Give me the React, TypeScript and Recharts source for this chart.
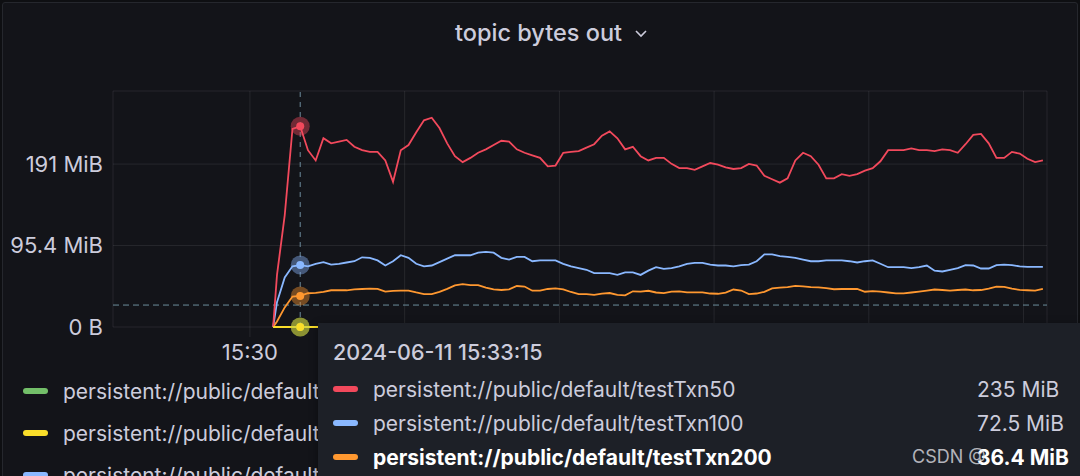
import { CartesianGrid, Line, LineChart, ReferenceDot, ReferenceLine, XAxis, YAxis } from "recharts";

// seconds after 15:30:00, first sample at 15:31:30 then every 30s
const FIRST_T = 90;
const START_T = 105;
const STEP_T = 30;

// MiB per series
const testTxn50 = [
  0, 61, 131, 232, 235, 207, 195, 221, 215, 217,
  219, 211, 207, 205, 205, 195, 170, 207, 213, 228,
  242, 245, 233, 215, 200, 193, 198, 204, 208, 213,
  218, 217, 208, 204, 201, 198, 188, 189, 204, 205,
  206, 210, 214, 224, 229, 221, 208, 211, 200, 195,
  198, 198, 191, 186, 186, 184, 188, 192, 190, 187,
  185, 186, 191, 189, 177, 173, 169, 174, 195, 204,
  200, 190, 174, 174, 179, 177, 179, 183, 186, 194,
  207, 207, 207, 209, 207, 207, 206, 208, 207, 204,
  214, 225, 226, 215, 198, 198, 205, 203, 197, 193,
  195,
];

const testTxn100 = [
  0,
  29, 58, 71, 72.5, 71, 74, 76, 73, 74, 75.5,
  77, 81.6, 81, 78, 72, 77, 84, 81, 74, 71,
  72, 76, 80, 84, 84, 84, 87, 88, 87, 81,
  79, 82, 82, 77, 78, 78, 78, 74, 71, 69,
  67, 63, 63, 63, 61, 64, 64, 61, 66, 70,
  68, 69, 71, 74, 75, 75, 73, 72, 72, 71,
  72.5, 73, 77, 85, 85, 83, 82, 81, 79, 77,
  77, 78, 78, 78, 77, 75.5, 77, 78, 74, 70,
  70, 70, 69, 70, 72, 66, 65, 67, 69, 72.5,
  72, 68.5, 68.5, 72.5, 73, 72.5, 71, 70.5, 70.5, 70.5,
];

const testTxn200 = [
  0,
  6.4, 23, 35.7, 36.4, 39.5, 40, 41, 43, 43, 43,
  44, 44.5, 45, 44.7, 41.5, 42.4, 42.5, 42.5, 40.4, 38.6,
  38.6, 41.2, 44.7, 48.8, 50.3, 49, 49, 46, 44, 43.3,
  44, 48, 47.4, 42.5, 42.5, 44.5, 45.3, 44, 41, 38.6,
  38.6, 37.7, 39, 39.8, 37.5, 37, 41.8, 41.5, 42.4, 40.4,
  39.6, 41.5, 41.8, 40.6, 40.6, 40.6, 39.2, 38.9, 40.2, 43.9,
  42.7, 38.6, 39.2, 41.2, 45.3, 46.2, 46.8, 48.2, 47.6, 46.8,
  46.5, 45.4, 44.2, 44.5, 44.5, 44.5, 41.3, 41.9, 41.5, 40.4,
  39.4, 39.4, 40.4, 41.5, 42.7, 43.9, 43.3, 42.5, 43.3, 43.9,
  43, 43.3, 45, 47.2, 47, 44.8, 43.5, 43, 42.7, 44.7,
];

const idleTopic = [
  0,
  0, 0, 0, 0, 0, 0, 0, 0, 0, 0,
  0, 0, 0, 0, 0, 0, 0, 0, 0, 0,
  0, 0, 0, 0, 0, 0, 0, 0, 0, 0,
  0, 0, 0, 0, 0, 0, 0, 0, 0, 0,
  0, 0, 0, 0, 0, 0, 0, 0, 0, 0,
  0, 0, 0, 0, 0, 0, 0, 0, 0, 0,
  0, 0, 0, 0, 0, 0, 0, 0, 0, 0,
  0, 0, 0, 0, 0, 0, 0, 0, 0, 0,
  0, 0, 0, 0, 0, 0, 0, 0, 0, 0,
  0, 0, 0, 0, 0, 0, 0, 0, 0, 0,
];

const times = [FIRST_T, ...testTxn50.slice(1).map((_, i) => START_T + STEP_T * i)];

const X_TICKS = [0, 600, 1200, 1800, 2400, 3000];
const X_TICK_LABELS = ["15:30", "15:40", "15:50", "16:00", "16:10", "16:20"];
const Y_TICKS = [0, 95.37, 190.73];
const Y_TICK_LABELS = ["0 B", "95.4 MiB", "191 MiB"];

const HOVER_INDEX = 4;
const HOVER_LABEL = "2024-06-11 15:33:15";
const CURSOR_Y = 25.7;

const TEXT = "#ccccdc";
const GRID = "rgba(204,204,220,0.1)";
const CROSS = "#6c8c9c";
const FONT = "Inter, 'Noto Sans', sans-serif";

const series = [
  { key: "a", name: "persistent://public/default/testTxn10", color: "#73bf69", values: idleTopic },
  { key: "b", name: "persistent://public/default/testTxn20", color: "#fade2a", values: idleTopic },
  { key: "c", name: "persistent://public/default/testTxn100", color: "#8ab8ff", values: testTxn100 },
  { key: "d", name: "persistent://public/default/testTxn200", color: "#ff9830", values: testTxn200 },
  { key: "e", name: "persistent://public/default/testTxn50", color: "#f2495c", values: testTxn50 },
];

const data = times.map((t, i) => {
  const row: Record<string, number> = { t };
  series.forEach((s) => (row[s.key] = s.values[i]));
  return row;
});

const drawOrder = ["a", "c", "d", "e", "b"];
const tooltipRows = ["e", "c", "d"].map((k) => series.find((s) => s.key === k)!);

const halo = (color: string) => (props: any) => (
  <g>
    <circle cx={props.cx} cy={props.cy} r={9.5} fill={color} fillOpacity={0.42} />
    <circle cx={props.cx} cy={props.cy} r={4} fill={color} />
  </g>
);

const fmt = (v: number) => `${Number(v.toPrecision(3))} MiB`;

export default function App() {
  return (
    <div style={{ position: "relative", width: 1080, height: 476, overflow: "hidden", background: "#0e0f12", fontFamily: FONT }}>
      <style>{"body{margin:0}"}</style>
      <div style={{ position: "absolute", left: 2, top: 2, width: 1074, height: 500, background: "#131419", border: "1px solid #25272d", borderRadius: 3 }} />

      <div style={{ position: "absolute", left: 455, top: 18, color: TEXT, fontSize: 23.5, fontWeight: 500, lineHeight: "30px", whiteSpace: "nowrap" }}>
        topic bytes out
      </div>
      <svg style={{ position: "absolute", left: 634, top: 28 }} width={14} height={12}>
        <polyline points="2,3 7,8 12,3" fill="none" stroke={TEXT} strokeWidth={1.6} />
      </svg>

      <div style={{ position: "absolute", left: 0, top: 0 }}>
        <LineChart width={1080} height={476} data={data} margin={{ top: 91, right: 33, bottom: 0, left: 0 }}>
          <CartesianGrid stroke={GRID} />
          <XAxis
            dataKey="t"
            type="number"
            domain={[-531, 3091]}
            ticks={X_TICKS}
            tickFormatter={(v) => X_TICK_LABELS[X_TICKS.indexOf(v)]}
            height={149}
            axisLine={false}
            tickSize={10}
            tickLine={{ stroke: GRID }}
            tickMargin={7}
            tick={{ fill: TEXT, fontSize: 22, fontFamily: FONT }}
          />
          <YAxis
            type="number"
            domain={[0, 276.3]}
            ticks={Y_TICKS}
            tickFormatter={(v) => Y_TICK_LABELS[Y_TICKS.indexOf(v)]}
            width={113}
            axisLine={false}
            tickLine={false}
            tickSize={0}
            tickMargin={10}
            tick={{ fill: TEXT, fontSize: 22, fontFamily: FONT }}
          />
          <ReferenceLine y={CURSOR_Y} stroke={CROSS} strokeDasharray="6 4" strokeWidth={1} />
          <ReferenceLine x={times[HOVER_INDEX]} stroke={CROSS} strokeDasharray="5 5" strokeWidth={1} />
          {drawOrder.map((k) => {
            const s = series.find((x) => x.key === k)!;
            return (
              <Line
                key={k}
                dataKey={k}
                type="linear"
                stroke={s.color}
                strokeWidth={1.8}
                dot={false}
                activeDot={false}
                isAnimationActive={false}
              />
            );
          })}
          {drawOrder.map((k) => {
            const s = series.find((x) => x.key === k)!;
            return (
              <ReferenceDot key={`dot-${k}`} x={times[HOVER_INDEX]} y={s.values[HOVER_INDEX]} r={4} shape={halo(s.color)} />
            );
          })}
        </LineChart>
      </div>

      {/* legend */}
      {series.map((s, i) => (
        <div key={s.key} style={{ position: "absolute", left: 23, top: 378 + i * 42, height: 26, display: "flex", alignItems: "center", whiteSpace: "nowrap" }}>
          <div style={{ width: 25, height: 6, borderRadius: 3, background: s.color, marginRight: 15 }} />
          <span style={{ color: TEXT, fontSize: 21 }}>{s.name}</span>
        </div>
      ))}

      {/* hover tooltip */}
      <div style={{ position: "absolute", left: 318, top: 323, width: 800, height: 200, background: "#1d2027", boxShadow: "0 2px 8px rgba(0,0,0,0.4)" }}>
        <div style={{ position: "absolute", left: 15, top: 16, color: TEXT, fontSize: 21.5, fontWeight: 500, whiteSpace: "nowrap" }}>{HOVER_LABEL}</div>
        {tooltipRows.map((s, i) => {
          const bold = i === tooltipRows.length - 1;
          return (
            <div key={s.key} style={{ position: "absolute", left: 15, top: 53 + i * 34, height: 26, display: "flex", alignItems: "center", whiteSpace: "nowrap", color: bold ? "#ffffff" : TEXT, fontWeight: bold ? 700 : 400, fontSize: 21 }}>
              <div style={{ width: 25, height: 6, borderRadius: 3, background: s.color, marginRight: 15 }} />
              <span>{s.name}</span>
              <span style={{ position: "absolute", left: 644 }}>{fmt(s.values[HOVER_INDEX])}</span>
            </div>
          );
        })}
      </div>
      <div style={{ position: "absolute", left: 912, top: 446, color: "rgba(230,230,235,0.75)", fontSize: 18, whiteSpace: "nowrap" }}>CSDN @</div>
    </div>
  );
}
